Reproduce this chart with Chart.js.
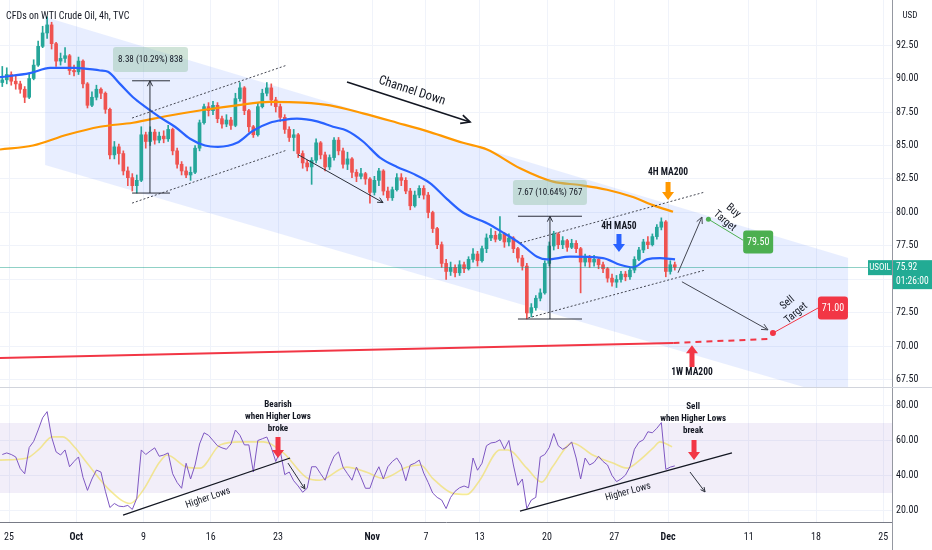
<!DOCTYPE html>
<html>
<head>
<meta charset="utf-8">
<script src="https://cdn.jsdelivr.net/npm/chart.js@4.4.0/dist/chart.umd.min.js"></script>
<style>
  html, body { margin: 0; padding: 0; background: #fff; }
  #wrap { position: relative; width: 932px; height: 550px; overflow: hidden; }
  #price { position: absolute; left: 0; top: 0; }
  #rsi { position: absolute; left: 0; top: 388px; }
</style>
</head>
<body>
<div id="wrap">
  <canvas id="price" width="932" height="388"></canvas>
  <canvas id="rsi" width="932" height="162"></canvas>
</div>
<script>
// ---- data (x is in trading days from Mon 25 Sep, weekends removed) ----
const tickDays = [0, 5, 10, 15, 20, 27, 31, 35, 40, 45, 49, 55, 60, 65];
const tickLabels = ['25', 'Oct', '9', '16', '23', 'Nov', '7', '13', '20', '27', 'Dec', '11', '18', '25'];
const priceTicks = [67.5, 70, 72.5, 75, 77.5, 80, 82.5, 85, 87.5, 90, 92.5];
const rsiTicks = [20, 40, 60, 80];

// candles, three per trading day (8h buckets)
const firstOpen = 89.7;
const closes = [
  89.9, 90.3, 89.8, 89.6, 89.2, 88.6, 90.0, 91.0, 92.4, 93.4,
  94.0, 92.6, 91.3, 91.5, 91.7, 90.6, 90.5, 91.3, 89.6, 88.0,
  88.6, 89.2, 88.9, 87.7, 84.3, 84.9, 84.4, 83.1, 82.6, 82.0,
  82.4, 85.8, 85.3, 86.0, 85.4, 85.7, 85.5, 86.2, 84.6, 83.6,
  83.1, 82.8, 83.0, 84.8, 86.7, 87.9, 87.6, 88.0, 87.0, 86.6,
  86.9, 86.5, 88.5, 89.3, 87.6, 86.4, 85.8, 87.9, 88.9, 89.3,
  88.4, 87.9, 87.1, 86.2, 85.6, 85.8, 84.4, 83.7, 83.4, 83.9,
  85.2, 84.3, 83.4, 84.1, 85.4, 84.6, 83.6, 84.0, 83.0, 82.7,
  82.9, 82.5, 81.5, 82.4, 83.1, 81.6, 81.1, 81.7, 82.6, 82.4,
  81.6, 80.5, 81.3, 81.8, 81.3, 80.0, 78.8, 77.6, 76.2, 75.6,
  75.9, 75.5, 76.1, 75.8, 76.5, 76.9, 76.4, 77.3, 78.1, 78.3,
  78.0, 78.4, 77.8, 78.1, 77.3, 76.6, 76.0, 72.5, 72.9, 73.6,
  74.0, 76.2, 77.5, 78.4, 77.6, 77.9, 77.4, 77.7, 77.3, 76.3,
  76.6, 76.3, 76.5, 76.1, 75.8, 75.1, 74.8, 75.0, 75.4, 75.2,
  75.7, 76.5, 77.2, 77.8, 77.6, 78.2, 78.9, 79.3, 75.6, 76.1,
  75.92
];
const highs = [
  90.9, 90.8, 90.5, 90.2, 89.8, 89.4, 90.4, 91.4, 92.8, 93.9,
  94.6, 94.2, 92.7, 91.9, 92.3, 91.8, 91.0, 91.6, 91.4, 89.7,
  89.0, 89.5, 89.3, 89.0, 87.8, 85.3, 85.1, 84.6, 83.4, 82.9,
  82.8, 86.4, 86.0, 86.4, 86.2, 86.0, 86.1, 86.5, 86.3, 84.8,
  83.8, 83.4, 83.4, 85.0, 86.9, 88.1, 88.2, 88.3, 88.2, 87.2,
  87.3, 87.1, 88.9, 89.7, 89.4, 87.7, 86.5, 88.2, 89.2, 89.7,
  89.6, 88.6, 88.1, 87.3, 86.4, 86.2, 85.9, 84.6, 83.9, 84.1,
  85.5, 85.3, 84.5, 84.3, 85.6, 85.6, 84.8, 84.5, 84.1, 83.2,
  83.3, 83.0, 82.6, 82.7, 83.3, 83.2, 81.9, 81.9, 82.9, 82.9,
  82.6, 81.8, 81.6, 82.0, 82.0, 81.5, 80.1, 78.9, 77.8, 76.5,
  76.3, 76.1, 76.4, 76.3, 76.7, 77.3, 77.1, 77.5, 78.4, 78.8,
  78.6, 79.7, 78.5, 78.4, 78.2, 77.4, 76.8, 76.2, 73.2, 73.8,
  74.3, 76.4, 77.8, 78.6, 78.5, 78.2, 78.0, 78.0, 77.9, 77.4,
  76.9, 76.8, 76.8, 76.6, 76.3, 75.9, 75.4, 75.3, 75.6, 75.6,
  75.9, 76.7, 77.4, 78.0, 78.2, 78.4, 79.1, 79.6, 79.4, 76.4,
  76.3
];
const lows = [
  89.4, 89.6, 89.5, 89.2, 88.9, 88.2, 88.5, 89.9, 90.9, 92.3,
  93.0, 92.2, 90.9, 91.0, 91.2, 90.3, 90.2, 90.3, 89.3, 87.8,
  87.9, 88.4, 88.5, 87.4, 84.0, 84.0, 83.6, 82.8, 82.0, 81.6,
  81.45, 82.3, 84.8, 85.0, 85.1, 85.2, 85.2, 85.3, 84.3, 83.3,
  82.8, 82.6, 82.4, 82.9, 84.6, 86.6, 87.2, 87.3, 86.7, 86.3,
  86.4, 86.2, 86.4, 88.3, 87.3, 86.0, 85.6, 85.7, 87.8, 88.7,
  88.0, 87.5, 86.8, 85.9, 85.3, 84.6, 84.1, 83.3, 83.1, 82.1,
  83.7, 84.0, 83.1, 83.2, 83.9, 84.3, 83.3, 83.2, 82.6, 82.3,
  82.5, 82.1, 80.7, 81.3, 82.0, 81.3, 80.9, 80.9, 81.6, 82.0,
  81.4, 80.2, 80.4, 81.1, 81.0, 79.6, 78.5, 77.3, 75.9, 75.0,
  75.3, 75.2, 75.3, 75.5, 75.7, 76.3, 76.0, 76.3, 77.0, 77.9,
  77.8, 77.9, 77.4, 77.5, 77.0, 76.3, 75.7, 72.05, 72.2, 72.7,
  73.4, 73.9, 76.0, 77.2, 77.3, 77.3, 77.1, 77.3, 77.0, 74.0,
  76.0, 75.9, 76.0, 75.8, 75.5, 74.8, 74.5, 74.4, 74.8, 74.9,
  75.0, 75.5, 76.4, 77.0, 77.3, 77.5, 78.0, 78.7, 75.2, 75.4,
  75.7
];
const lastPrice = 75.92;

// moving averages
const ma50Day = [-0.67, 1.56, 3.05, 4.91, 6.77, 7.36, 8.25, 9.22, 10.11, 11.23,
  12.34, 13.46, 14.57, 15.54, 16.95, 18.14, 19.4, 20.37, 21.41, 22.9,
  24.09, 25.13, 26.32, 27.58, 28.85, 30.04, 31.3, 32.57, 33.75, 35.54,
  36.73, 37.99, 39.26, 40.0, 41.71, 44.16, 45.43, 46.39, 47.43, 48.4, 49.52];
const ma50 = [90.1, 90.4, 90.8, 90.8, 90.6, 90.5, 89.6, 88.6, 87.9, 87.1,
  86.4, 85.5, 85.0, 84.9, 85.2, 86.1, 86.7, 86.9, 87.0, 86.8,
  86.4, 86.1, 85.3, 84.1, 83.4, 82.9, 82.2, 81.0, 80.0, 79.2,
  78.5, 77.7, 76.7, 76.5, 76.7, 76.6, 76.1, 75.9, 76.5, 76.6, 76.5];
const ma200Day = [-0.67, 1.78, 4.31, 6.77, 9.22, 11.75, 14.42, 16.95, 19.4, 21.86,
  23.87, 26.32, 28.85, 31.3, 33.75, 35.54, 37.99, 40.45, 42.45, 44.46,
  46.39, 47.88, 49.37];
const ma200 = [84.7, 85.0, 85.8, 86.4, 86.7, 87.2, 87.65, 88.0, 88.25, 88.2,
  88.0, 87.4, 86.7, 86.0, 85.2, 84.7, 83.3, 82.3, 82.05, 81.7,
  81.15, 80.55, 80.05];
const ma1wDay = [-0.67, 49.4];
const ma1w = [69.14, 70.26];
const ma1wProjDay = [49.4, 56.4];
const ma1wProj = [70.26, 70.56];

// descending channel
const channelDay = [2.68, 62.4];
const channelTop = [94.6, 76.6];
const channelBottom = [83.55, 66.0];

// RSI (one value per candle) and its moving average
const rsi = [
  52.0, 52.9, 52.0, 50.6, 44, 41, 56, 59.5, 66, 73,
  76.5, 62, 53.5, 51.7, 54.6, 45, 48, 50.6, 39, 31.5,
  38, 43.1, 42, 31, 21.7, 24, 22.5, 22.2, 22.9, 20.6,
  27, 54.6, 52, 54, 55.8, 51, 51.7, 52.9, 41, 36,
  32.7, 47, 38, 46, 58, 64.4, 63, 60, 57, 55.8,
  55, 58, 66, 63, 57.5, 57.5, 42, 60, 61, 62,
  56, 48, 54, 40.5, 42, 37, 34, 30.4, 32.7, 45,
  45, 41, 37.3, 45, 51, 53.5, 44.8, 41, 37.3, 44.8,
  39, 32.7, 32.7, 40, 45, 38, 45, 48, 50, 46,
  37, 46, 47, 48.8, 41.4, 36, 30, 27.5, 26, 21.1,
  27.5, 31, 33, 34, 33, 50, 43, 47, 57, 58.6,
  59, 60.4, 55, 60, 46, 34.4, 38, 21.1, 26, 27.5,
  50.6, 52, 56, 64, 57, 55, 56.4, 59.2, 50, 38,
  50, 46, 47.5, 51, 48, 46, 40, 36.5, 38, 40.2,
  45, 55, 59, 60.4, 65, 64.4, 67, 70.2, 43.5, 44.8,
  45.5
];
const rsiMaDay = [-0.67, 1.34, 2.3, 3.2, 4.01, 4.9, 5.8, 7.5, 9.0, 9.96,
  11.2, 11.75, 13.2, 14.2, 15.7, 17.2, 18.9, 20.4, 22.2, 23.1,
  25.1, 26.6, 27.8, 29.6, 30.6, 31.5, 33.0, 34.05, 35.0, 36.5,
  37.1, 38.5, 39.6, 40.4, 41.9, 43.4, 44.9, 45.95, 46.9, 47.9, 48.4, 49.3];
const rsiMa = [48.8, 50.0, 55.5, 62.1, 62.1, 56, 47.1, 31.5, 24, 31.5,
  47.7, 51.7, 44.8, 44.2, 57.5, 59.2, 59.2, 52.9, 38.4, 37.3,
  44.8, 41.9, 38.4, 44.8, 46, 38.4, 29.8, 29.2, 37.3, 54.6,
  54.6, 44.2, 36.2, 44.8, 58.6, 51.7, 47.1, 44.2, 48.8, 55.8, 59.2, 56.4];
const rsiBandHigh = 70;
const rsiBandLow = 30;

// ---- look ----
function fontExists(name) {
  const c = document.createElement('canvas').getContext('2d');
  const probe = 'mmmmwwwlli 0123456789';
  c.font = '20px monospace';
  const base = c.measureText(probe).width;
  c.font = '20px "' + name + '", monospace';
  return c.measureText(probe).width !== base;
}
const narrowFonts = { 'Liberation Sans Narrow': 1, 'Roboto Condensed': 0.95, 'DejaVu Sans Condensed': 0.84 };
const narrow = Object.keys(narrowFonts).find(fontExists);
const FONT = narrow ? '"' + narrow + '", Roboto, sans-serif' : 'Roboto, "Liberation Sans", sans-serif';
const SQUEEZE = narrow ? narrowFonts[narrow] : 0.84;
const TEXT = '#131722';
const GRID = '#f0f3fa';
const UP = '#26a69a';
const DOWN = '#ef5350';
const X_MIN = -0.67;
const X_MAX = 65.65;

const opens = closes.map((c, k) => (k === 0 ? firstOpen : closes[k - 1]));
const candleDay = closes.map((c, k) => k / 3 - 0.5);
const pts = (days, vals) => days.map((d, i) => ({ x: d, y: vals[i] }));
const candleColor = (ctx) => (closes[ctx.dataIndex] >= opens[ctx.dataIndex] ? UP : DOWN);

// ---- drawings (positions in chart units) ----
const priceNotes = {
  lines: [
    { pts: [[9.15, 87.05], [20.67, 91.0]], color: '#434651', dash: [2, 2] },
    { pts: [[9.15, 80.7], [20.67, 84.66]], color: '#434651', dash: [2, 2] },
    { pts: [[38.0, 77.72], [51.75, 81.53]], color: '#434651', dash: [2, 2] },
    { pts: [[38.6, 72.13], [51.75, 75.7]], color: '#434651', dash: [2, 2] },
    { pts: [[9.15, 89.83], [11.97, 89.83]], color: '#2a2e39' },
    { pts: [[9.15, 81.45], [11.97, 81.45]], color: '#2a2e39' },
    { pts: [[10.48, 81.45], [10.48, 89.83]], color: '#2a2e39', head: 6 },
    { pts: [[37.84, 79.72], [42.6, 79.72]], color: '#2a2e39' },
    { pts: [[37.84, 72.05], [42.6, 72.05]], color: '#2a2e39' },
    { pts: [[40.22, 72.05], [40.22, 79.72]], color: '#2a2e39', head: 6 },
    { pts: [[25.13, 89.74], [34.28, 86.75]], color: TEXT, width: 1.6, head: 10 },
    { pts: [[21.49, 84.32], [27.81, 80.74]], color: '#2a2e39', head: 6 },
    { pts: [[49.74, 75.5], [51.52, 79.66]], color: '#434651', head: 7 },
    { pts: [[50.03, 74.83], [56.43, 71.24]], color: '#434651', head: 7 },
    { pts: [[52.0, 79.5], [54.58, 77.93]], color: '#4caf50' },
    { pts: [[56.8, 71.0], [60.15, 72.87]], color: '#f23645' }
  ],
  texts: [
    { at: [29.96, 89.07], lines: ['Channel Down'], size: 13, rot: 18 },
    { at: [49.0, 83.02], lines: ['4H MA200'], size: 10, bold: true },
    { at: [45.35, 78.99], lines: ['4H MA50'], size: 10, bold: true },
    { at: [50.78, 68.02], lines: ['1W MA200'], size: 10, bold: true },
    { at: [53.53, 79.74], lines: ['Buy', 'Target'], size: 11, rot: 40 },
    { at: [58.2, 72.87], lines: ['Sell', 'Target'], size: 11, rot: -40 }
  ],
  boxes: [
    { at: [10.52, 91.42], w: 75, h: 25, fill: 'rgba(150,196,168,0.45)', text: '8.38 (10.29%) 838', color: TEXT, size: 9.5 },
    { at: [40.22, 81.5], w: 74, h: 25, fill: 'rgba(150,196,168,0.45)', text: '7.67 (10.64%) 767', color: TEXT, size: 9.5 },
    { at: [55.7, 77.8], w: 30, h: 23, fill: '#4caf50', text: '79.50', color: '#fff', size: 10.5 },
    { at: [61.26, 72.87], w: 30, h: 23, fill: '#f23645', text: '71.00', color: '#fff', size: 10.5 }
  ],
  dots: [
    { at: [52.0, 79.5], r: 2.5, color: '#4caf50' },
    { at: [56.8, 71.0], r: 3, color: '#f23645' }
  ],
  fat: [
    { day: 49.0, tail: 82.28, tip: 80.93, color: '#ff9800' },
    { day: 45.35, tail: 78.4, tip: 77.05, color: '#2962ff' },
    { day: 50.78, tail: 68.47, tip: 70.1, color: '#f23645' }
  ]
};

const rsiNotes = {
  lines: [
    { pts: [[8.48, 17.4], [20.9, 50.0]], color: TEXT, width: 1.3 },
    { pts: [[37.99, 19.7], [53.75, 52.9]], color: TEXT, width: 1.3 },
    { pts: [[20.74, 47.1], [22.0, 32.3]], color: '#2a2e39', head: 5 },
    { pts: [[50.63, 42.0], [51.75, 30.6]], color: '#2a2e39', head: 5 }
  ],
  texts: [
    { at: [14.8, 27.1], lines: ['Higher Lows'], size: 10, rot: -18.8 },
    { at: [46.02, 30.6], lines: ['Higher Lows'], size: 10, rot: -15.3 },
    { at: [20.0, 73.4], lines: ['Bearish', 'when Higher Lows', 'broke'], size: 9.5, bold: true, lh: 12 },
    { at: [50.86, 72.3], lines: ['Sell', 'when Higher Lows', 'break'], size: 9.5, bold: true, lh: 12 }
  ],
  fat: [
    { day: 20.0, tail: 62.0, tip: 50.0, color: '#f23645' },
    { day: 50.93, tail: 60.3, tip: 48.9, color: '#f23645' }
  ]
};

function arrowHead(ctx, a, b, len) {
  const ang = Math.atan2(b[1] - a[1], b[0] - a[0]);
  ctx.beginPath();
  ctx.moveTo(b[0] - len * Math.cos(ang - 0.45), b[1] - len * Math.sin(ang - 0.45));
  ctx.lineTo(b[0], b[1]);
  ctx.lineTo(b[0] - len * Math.cos(ang + 0.45), b[1] - len * Math.sin(ang + 0.45));
  ctx.stroke();
}

function drawText(ctx, lines, x, y, size, opts) {
  opts = opts || {};
  ctx.save();
  ctx.translate(x, y);
  ctx.rotate((opts.rot || 0) * Math.PI / 180);
  ctx.scale(SQUEEZE, 1);
  ctx.font = (opts.bold ? 'bold ' : '') + size + 'px ' + FONT;
  ctx.fillStyle = opts.color || TEXT;
  ctx.textAlign = opts.align || 'center';
  ctx.textBaseline = 'middle';
  const lh = opts.lh || size * 1.22;
  lines.forEach((s, i) => ctx.fillText(s, 0, (i - (lines.length - 1) / 2) * lh));
  ctx.restore();
}

function drawNotes(chart, notes) {
  const ctx = chart.ctx;
  const xs = chart.scales.x;
  const ys = chart.scales.y;
  const px = (p) => [xs.getPixelForValue(p[0]), ys.getPixelForValue(p[1])];
  ctx.save();
  (notes.lines || []).forEach((l) => {
    const a = px(l.pts[0]);
    const b = px(l.pts[1]);
    ctx.strokeStyle = l.color;
    ctx.lineWidth = l.width || 1;
    ctx.setLineDash(l.dash || []);
    ctx.beginPath();
    ctx.moveTo(a[0], a[1]);
    ctx.lineTo(b[0], b[1]);
    ctx.stroke();
    ctx.setLineDash([]);
    if (l.head) arrowHead(ctx, a, b, l.head);
  });
  (notes.dots || []).forEach((d) => {
    const p = px(d.at);
    ctx.fillStyle = d.color;
    ctx.beginPath();
    ctx.arc(p[0], p[1], d.r, 0, Math.PI * 2);
    ctx.fill();
  });
  (notes.boxes || []).forEach((b) => {
    const p = px(b.at);
    ctx.fillStyle = b.fill;
    ctx.beginPath();
    ctx.roundRect(p[0] - b.w / 2, p[1] - b.h / 2, b.w, b.h, 3);
    ctx.fill();
    drawText(ctx, [b.text], p[0], p[1] + 0.5, b.size, { color: b.color });
  });
  (notes.fat || []).forEach((f) => {
    const x = xs.getPixelForValue(f.day);
    const y0 = ys.getPixelForValue(f.tail);
    const y1 = ys.getPixelForValue(f.tip);
    const dir = Math.sign(y1 - y0);
    const head = 8, hw = 6, sw = 2.5;
    ctx.fillStyle = f.color;
    ctx.beginPath();
    ctx.moveTo(x - sw, y0);
    ctx.lineTo(x + sw, y0);
    ctx.lineTo(x + sw, y1 - dir * head);
    ctx.lineTo(x + hw, y1 - dir * head);
    ctx.lineTo(x, y1);
    ctx.lineTo(x - hw, y1 - dir * head);
    ctx.lineTo(x - sw, y1 - dir * head);
    ctx.closePath();
    ctx.fill();
  });
  (notes.texts || []).forEach((t) => {
    const p = px(t.at);
    drawText(ctx, t.lines, p[0], p[1], t.size, t);
  });
  ctx.restore();
}

// shared axis helpers
function fixedX(height, showLabels) {
  return {
    type: 'linear',
    min: X_MIN,
    max: X_MAX,
    offset: false,
    grid: { color: GRID, drawTicks: false, offset: false },
    border: { display: showLabels, color: '#787b86' },
    ticks: {
      display: showLabels,
      autoSkip: false,
      maxRotation: 0,
      padding: 9,
      color: TEXT,
      font: (c) => ({ family: FONT, size: 10, weight: ['Oct', 'Nov', 'Dec'].includes(tickLabels[tickDays.indexOf(c.tick && c.tick.value)]) ? 'bold' : 'normal' }),
      callback: (v) => { const i = tickDays.indexOf(v); return i >= 0 ? tickLabels[i] : ''; }
    },
    afterBuildTicks: (s) => { s.ticks = tickDays.map((v) => ({ value: v })); },
    afterFit: (s) => { s.height = height; s.paddingLeft = 0; s.paddingRight = 0; }
  };
}
function fixedY(min, max, ticks) {
  return {
    position: 'right',
    min: min,
    max: max,
    grid: { color: GRID, drawTicks: false },
    border: { display: true, color: '#9598a1' },
    ticks: {
      padding: 4,
      color: TEXT,
      font: { family: FONT, size: 10 },
      callback: (v) => v.toFixed(2)
    },
    afterBuildTicks: (s) => { s.ticks = ticks.map((v) => ({ value: v })); },
    afterFit: (s) => { s.width = 40; s.paddingTop = 0; s.paddingBottom = 0; }
  };
}

// ---- price pane ----
const pricePlugin = {
  id: 'priceExtras',
  afterDatasetsDraw(chart) {
    const { ctx, chartArea } = chart;
    const y = chart.scales.y.getPixelForValue(lastPrice);
    ctx.save();
    ctx.strokeStyle = 'rgba(8,153,129,0.45)';
    ctx.lineWidth = 1;
    ctx.beginPath();
    ctx.moveTo(chartArea.left, Math.round(y) + 0.5);
    ctx.lineTo(chartArea.right, Math.round(y) + 0.5);
    ctx.stroke();
    ctx.restore();
    drawNotes(chart, priceNotes);
  },
  afterDraw(chart) {
    const { ctx, chartArea, width, height } = chart;
    const y = chart.scales.y.getPixelForValue(lastPrice);
    ctx.save();
    drawText(ctx, ['CFDs on WTI Crude Oil, 4h, TVC'], 6, 16, 10.5, { align: 'left' });
    drawText(ctx, ['USD'], chartArea.right + 18, 16, 9.5);
    ctx.fillStyle = '#22ab94';
    ctx.fillRect(chartArea.right - 24, y - 7, 24, 15);
    ctx.fillRect(chartArea.right + 1, y - 7, width - chartArea.right - 1, 29);
    drawText(ctx, ['USOIL'], chartArea.right - 12, y + 0.5, 9.5, { color: '#fff' });
    drawText(ctx, ['75.92'], chartArea.right + 4, y + 0.5, 10, { color: '#fff', align: 'left' });
    drawText(ctx, ['01:26:00'], chartArea.right + 4, y + 14, 10, { color: '#fff', align: 'left' });
    ctx.strokeStyle = '#d1d4dc';
    ctx.lineWidth = 1;
    ctx.beginPath();
    ctx.moveTo(0, height - 0.5);
    ctx.lineTo(width, height - 0.5);
    ctx.stroke();
    ctx.restore();
  }
};

new Chart(document.getElementById('price'), {
  type: 'bar',
  data: {
    datasets: [
      { type: 'line', data: pts(channelDay, channelTop), borderWidth: 0, pointRadius: 0, fill: '+1', backgroundColor: 'rgba(41,98,255,0.11)', order: 20 },
      { type: 'line', data: pts(channelDay, channelBottom), borderWidth: 0, pointRadius: 0, fill: false, order: 20 },
      { type: 'bar', data: candleDay.map((d, k) => ({ x: d, y: [lows[k], highs[k]] })), backgroundColor: candleColor, barThickness: 1, grouped: false, order: 10 },
      { type: 'bar', data: candleDay.map((d, k) => ({ x: d, y: [opens[k], closes[k]] })), backgroundColor: candleColor, barThickness: 3, minBarLength: 1, grouped: false, order: 9 },
      { type: 'line', data: pts(ma1wDay, ma1w), borderColor: '#f23645', borderWidth: 2, pointRadius: 0, order: 4 },
      { type: 'line', data: pts(ma1wProjDay, ma1wProj), borderColor: '#f23645', borderWidth: 2, borderDash: [6, 5], pointRadius: 0, order: 4 },
      { type: 'line', data: pts(ma200Day, ma200), borderColor: '#ff9800', borderWidth: 2.2, pointRadius: 0, cubicInterpolationMode: 'monotone', order: 3 },
      { type: 'line', data: pts(ma50Day, ma50), borderColor: '#2962ff', borderWidth: 2.2, pointRadius: 0, cubicInterpolationMode: 'monotone', order: 2 }
    ]
  },
  options: {
    responsive: false,
    animation: false,
    events: [],
    layout: { padding: 0 },
    plugins: { legend: { display: false }, tooltip: { enabled: false } },
    scales: {
      x: fixedX(0, false),
      y: fixedY(66.9, 95.86, priceTicks)
    }
  },
  plugins: [pricePlugin]
});

// ---- RSI pane ----
const rsiPlugin = {
  id: 'rsiExtras',
  afterDatasetsDraw(chart) {
    drawNotes(chart, rsiNotes);
  },
  afterDraw(chart) {
    const { ctx, chartArea, height } = chart;
    ctx.save();
    ctx.strokeStyle = '#9598a1';
    ctx.lineWidth = 1;
    ctx.beginPath();
    ctx.moveTo(Math.round(chartArea.right) + 0.5, chartArea.bottom);
    ctx.lineTo(Math.round(chartArea.right) + 0.5, height);
    ctx.stroke();
    ctx.restore();
  }
};

new Chart(document.getElementById('rsi'), {
  type: 'line',
  data: {
    datasets: [
      { data: [{ x: X_MIN, y: rsiBandHigh }, { x: X_MAX, y: rsiBandHigh }], borderWidth: 0, pointRadius: 0, fill: '+1', backgroundColor: 'rgba(126,87,194,0.1)', order: 10 },
      { data: [{ x: X_MIN, y: rsiBandLow }, { x: X_MAX, y: rsiBandLow }], borderWidth: 0, pointRadius: 0, fill: false, order: 10 },
      { data: pts(rsiMaDay, rsiMa), borderColor: 'rgba(240,222,80,0.6)', borderWidth: 1.6, pointRadius: 0, cubicInterpolationMode: 'monotone', order: 3 },
      { data: pts(candleDay, rsi), borderColor: '#7e57c2', borderWidth: 1, pointRadius: 0, order: 2 }
    ]
  },
  options: {
    responsive: false,
    animation: false,
    events: [],
    layout: { padding: 0 },
    plugins: { legend: { display: false }, tooltip: { enabled: false } },
    scales: {
      x: fixedX(28, true),
      y: fixedY(13.43, 90, rsiTicks)
    }
  },
  plugins: [rsiPlugin]
});
</script>
</body>
</html>
